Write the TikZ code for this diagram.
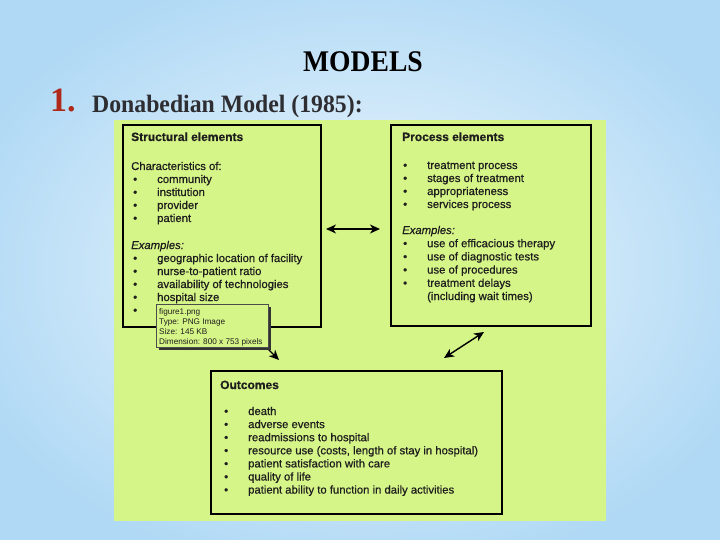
\documentclass[tikz,border=0pt]{standalone}
\usepackage{fontspec}
\setmainfont{Liberation Serif}
\newfontfamily\arialf[FakeBold=0.7]{Liberation Sans}
\newfontfamily\arialtip{Liberation Sans}
\usetikzlibrary{arrows.meta,calc}
\definecolor{bgin}{RGB}{240,248,253}
\definecolor{bgout}{RGB}{176,217,245}
\definecolor{panel}{RGB}{214,245,136}
\definecolor{numred}{RGB}{175,40,25}
\definecolor{txtdark}{RGB}{30,30,30}
\definecolor{subgray}{RGB}{45,45,50}
\begin{document}
\begin{tikzpicture}[x=1pt,y=-1pt,
  box/.style={draw=black, line width=1.3pt, rectangle, inner sep=0pt},
  ttl/.style={anchor=base west, inner sep=0pt, text=txtdark, font=\arialf\bfseries\fontsize{12}{12}\selectfont},
  item/.style={anchor=base west, inner sep=0pt, text=txtdark, font=\arialf\fontsize{11.3}{12}\selectfont},
  itemi/.style={item, font=\arialf\itshape\fontsize{11.3}{12}\selectfont},
  tip/.style={anchor=base west, inner sep=0pt, text=txtdark, font=\arialtip\fontsize{8.2}{9}\selectfont},
  dbl/.style={{Stealth[length=10pt,width=9pt,inset=3pt]}-{Stealth[length=10pt,width=9pt,inset=3pt]}, line width=1.4pt},
  sgl/.style={-{Stealth[length=10pt,width=9pt,inset=3pt]}, line width=1.4pt}]
\useasboundingbox (0,0) rectangle (720,540);
% background
\shade[inner color=bgin, outer color=bgout] (-60,-40) rectangle (780,580);
% titles
\node[anchor=base, inner sep=0pt, text=black, xscale=0.92, font=\bfseries\fontsize{30}{30}\selectfont] (title) at (363,72) {MODELS};
\node[anchor=base west, inner sep=0pt, text=numred, font=\bfseries\fontsize{34}{34}\selectfont] (num) at (50,112) {1.};
\node[anchor=base west, inner sep=0pt, text=subgray, xscale=0.95, font=\bfseries\fontsize{25}{25}\selectfont] (sub) at (92,113) {Donabedian Model (1985):};
% green panel
\node[rectangle, fill=panel, inner sep=0pt, minimum width=492pt, minimum height=401pt] (panel) at (360,320.5) {};
% boxes
\node[box, minimum width=198pt, minimum height=202pt] (struct) at (222,226) {};
\node[box, minimum width=200pt, minimum height=201pt] (proc) at (491,225.5) {};
\node[box, minimum width=291pt, minimum height=143pt] (outc) at (356.5,442.5) {};
% structural text
\node[ttl] (st) at (131,141) {Structural elements};
\node[item] (sch) at (131,170) {Characteristics of:};
\foreach \t [count=\i] in {community, institution, provider, patient} {
  \node[item] (sb\i) at (133,{170+13*\i}) {•};
  \node[item] (sc\i) at (157,{170+13*\i}) {\t};
}
\node[itemi] (sex) at (131,249) {Examples:};
\foreach \t [count=\i] in {geographic location of facility, nurse-to-patient ratio, availability of technologies, hospital size, {}} {
  \node[item] (seb\i) at (133,{249+13*\i}) {•};
  \node[item] (se\i) at (157,{249+13*\i}) {\t};
}
% process text
\node[ttl] (pt) at (402,141) {Process elements};
\foreach \t [count=\i] in {treatment process, stages of treatment, appropriateness, services process} {
  \node[item] (pb\i) at (403,{156+13*\i}) {•};
  \node[item] (pc\i) at (427,{156+13*\i}) {\t};
}
\node[itemi] (pex) at (402,234) {Examples:};
\foreach \t [count=\i] in {use of efficacious therapy, use of diagnostic tests, use of procedures, treatment delays} {
  \node[item] (peb\i) at (403,{234+13.2*\i}) {•};
  \node[item] (pe\i) at (427,{234+13.2*\i}) {\t};
}
\node[item] (pe5) at (427,300) {(including wait times)};
% outcomes text
\node[ttl] (ot) at (220,389) {Outcomes};
\foreach \t [count=\i] in {death, adverse events, readmissions to hospital, {resource use (costs, length of stay in hospital)}, patient satisfaction with care, quality of life, patient ability to function in daily activities} {
  \node[item] (ob\i) at (224,{401.9+13.1*\i}) {•};
  \node[item] (oc\i) at (248,{401.9+13.1*\i}) {\t};
}
% connectors
\coordinate (h1) at (326,229);
\coordinate (h2) at (380,229);
\draw[dbl] (h1) -- (h2);
\coordinate (d1) at (444,358);
\coordinate (d2) at (484,332);
\draw[dbl] (d1) -- (d2);
\coordinate (s1) at (252,333);
\coordinate (s2) at (279,360);
\draw[sgl] (s1) -- (s2);
% tooltip
\node[rectangle, fill=black!80, inner sep=0pt, minimum width=112pt, minimum height=43pt] (tipsh) at (214.5,328) {};
\node[rectangle, fill=panel, draw=black!70, line width=0.6pt, inner sep=0pt, minimum width=112pt, minimum height=43pt] (tipbox) at (212,325.5) {};
\node[tip] (t1) at (159,314) {figure1.png};
\node[tip] (t2) at (159,324) {Type: PNG Image};
\node[tip] (t3) at (159,334) {Size: 145 KB};
\node[tip] (t4) at (159,344) {Dimension: 800 x 753 pixels};
\end{tikzpicture}
\end{document}
